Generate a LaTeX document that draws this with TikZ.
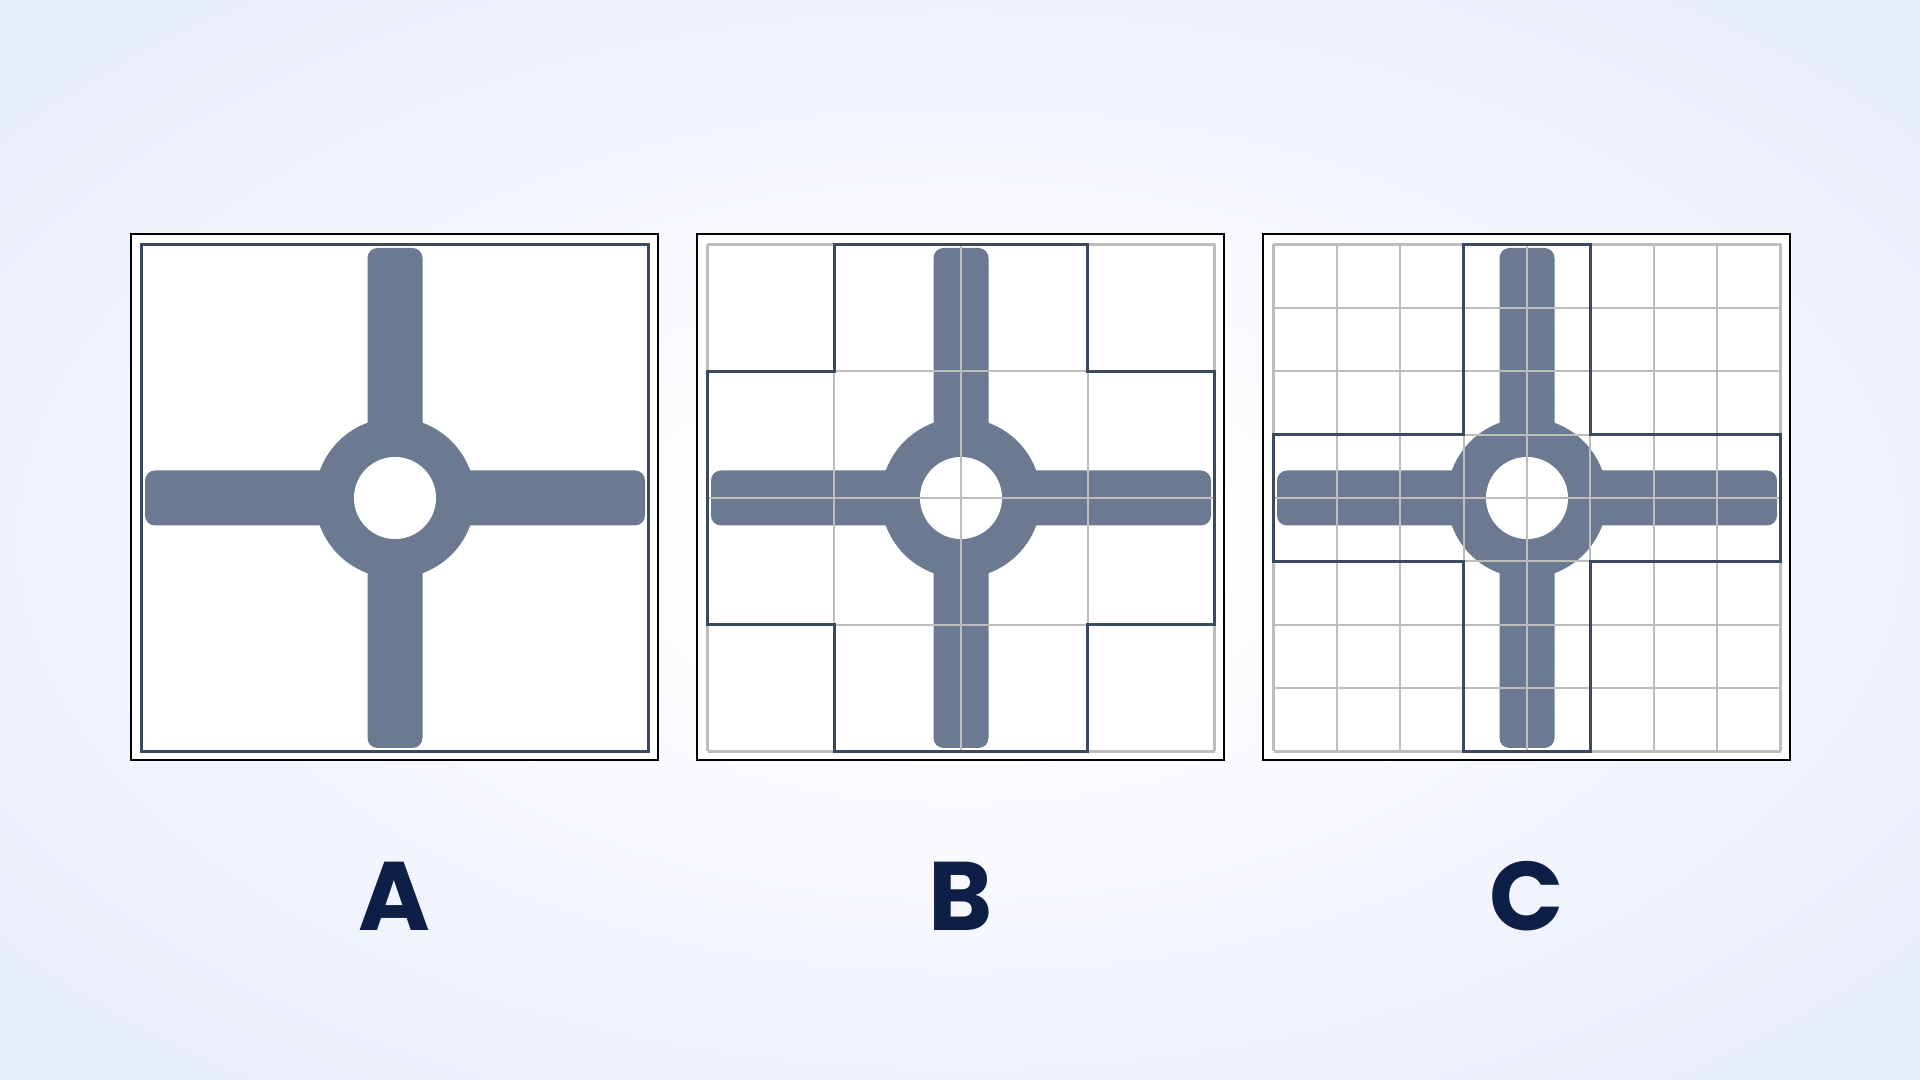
\documentclass[tikz,border=0pt]{standalone}
\usepackage{fontspec}
\newfontfamily\labfont{Poppins}
\definecolor{bgblue}{HTML}{E4EAFA}
\definecolor{crossfill}{HTML}{6B7A90}
\definecolor{darkline}{HTML}{3B4A5E}
\definecolor{gridgray}{HTML}{BDBDBD}
\definecolor{labnavy}{HTML}{0E1F47}
\pgfdeclareradialshading{bgshade}{\pgfpoint{0bp}{0bp}}{%
  color(0bp)=(white); color(5bp)=(white); color(38bp)=(bgblue); color(72bp)=(bgblue)}
\tikzset{
  panelframe/.style={fill=white, draw=black, line width=0.45pt},
  gridline/.style={draw=gridgray, line width=0.6pt},
  outline/.style={draw=darkline, line width=0.9pt, line join=miter},
  barfill/.style={fill=crossfill, rounded corners=0.1cm},
  lab/.style={font=\labfont\bfseries\fontsize{27.7}{30}\selectfont, text=labnavy, inner sep=0pt, anchor=base},
}
\newcommand{\crossshape}{%
  \fill[barfill] (236.5,14) rectangle (291.5,514);
  \fill[barfill] (14,236.5) rectangle (514,291.5);
  \fill[crossfill] (264,264) circle[radius=0.80cm];
  \fill[white] (264,264) circle[radius=0.41cm];
}
\begin{document}
\begin{tikzpicture}[x=0.01cm, y=-0.01cm]
  \useasboundingbox (0,0) rectangle (1920,1080);
  \shade[shading=bgshade] (0,0) rectangle (1920,1080);

  % Panel A
  \begin{scope}[shift={(131,234)}]
    \draw[panelframe] (0,0) rectangle (527,526);
    \crossshape
    \draw[outline] (10.5,10.5) rectangle (517.5,517.5);
  \end{scope}

  % Panel B
  \begin{scope}[shift={(697,234)}]
    \draw[panelframe] (0,0) rectangle (527,526);
    \crossshape
    \foreach \i in {0,...,4} {
      \draw[gridline] ({10.5+126.75*\i},10.5) -- ({10.5+126.75*\i},517.5);
      \draw[gridline] (10.5,{10.5+126.75*\i}) -- (517.5,{10.5+126.75*\i});
    }
    \draw[outline] (137.25,10.5) -- (390.75,10.5) -- (390.75,137.25) -- (517.5,137.25)
      -- (517.5,390.75) -- (390.75,390.75) -- (390.75,517.5) -- (137.25,517.5)
      -- (137.25,390.75) -- (10.5,390.75) -- (10.5,137.25) -- (137.25,137.25) -- cycle;
  \end{scope}

  % Panel C
  \begin{scope}[shift={(1263,234)}]
    \draw[panelframe] (0,0) rectangle (527,526);
    \crossshape
    \foreach \i in {0,...,8} {
      \draw[gridline] ({10.5+63.375*\i},10.5) -- ({10.5+63.375*\i},517.5);
      \draw[gridline] (10.5,{10.5+63.375*\i}) -- (517.5,{10.5+63.375*\i});
    }
    \draw[outline] (200.625,10.5) -- (327.375,10.5) -- (327.375,200.625) -- (517.5,200.625)
      -- (517.5,327.375) -- (327.375,327.375) -- (327.375,517.5) -- (200.625,517.5)
      -- (200.625,327.375) -- (10.5,327.375) -- (10.5,200.625) -- (200.625,200.625) -- cycle;
  \end{scope}

  \node[lab] (labA) at (394,931) {A};
  \node[lab] (labB) at (961,931) {B};
  \node[lab] (labC) at (1527,931) {C};
\end{tikzpicture}
\end{document}
